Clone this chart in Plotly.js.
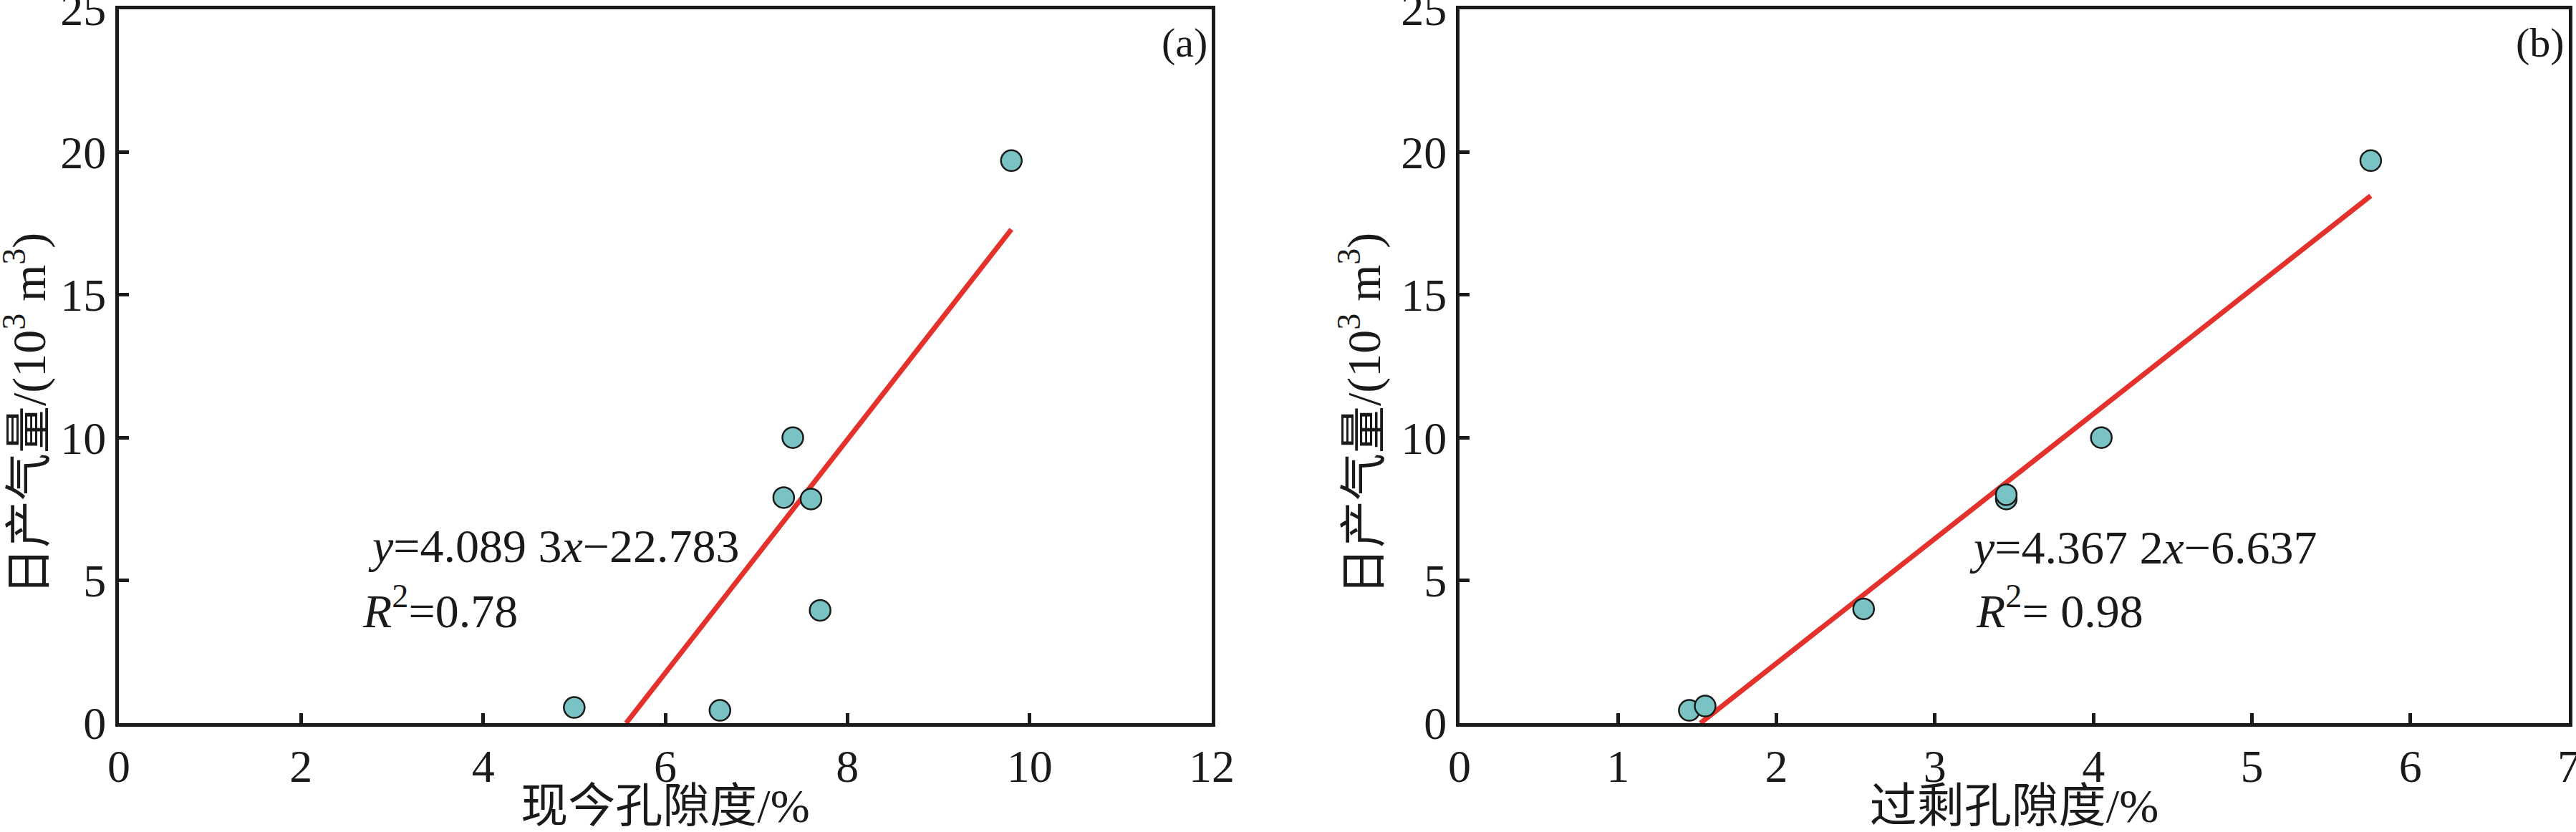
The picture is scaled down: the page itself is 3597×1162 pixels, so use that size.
<!DOCTYPE html>
<html>
<head>
<meta charset="utf-8">
<script src="https://cdn.plot.ly/plotly-3.0.1.min.js"></script>
<style>
  html, body { margin: 0; padding: 0; background: #fff; }
  #chart { width: 3597px; height: 1162px; }
</style>
</head>
<body>
<div id="chart"></div>
<script>
// Daily gas production vs present porosity (a) and excess porosity (b)
var gasA = [0.55, 0.45, 7.9, 10.0, 7.85, 3.95, 19.7];
var porosityNow = [5.0, 6.6, 7.3, 7.4, 7.6, 7.7, 9.8];

var gasB = [0.45, 0.6, 4.0, 7.85, 8.0, 10.0, 19.7];
var porosityExcess = [1.45, 1.55, 2.55, 3.45, 3.45, 4.05, 5.75];

// fitted lines, end points
var fitAX = [5.57, 9.8];
var fitAY = [0, 17.29];
var fitBX = [1.52, 5.75];
var fitBY = [0, 18.47];

var yTicks = [0, 5, 10, 15, 20, 25];
var xTicksA = [0, 2, 4, 6, 8, 10, 12];
var xTicksB = [0, 1, 2, 3, 4, 5, 6, 7];

var eqA = '<i>y</i>=4.089 3<i>x</i>\u221222.783';
var r2A = '<i>R</i><sup>2</sup>=0.78';
var eqB = '<i>y</i>=4.367 2<i>x</i>\u22126.637';
var r2B = '<i>R</i><sup>2</sup>= 0.98';

var xTitleA = '现今孔隙度/%';
var xTitleB = '过剩孔隙度/%';
var yTitle = '日产气量/(10<sup>3</sup> m<sup>3</sup>)';

var FONT = 'Times New Roman, Liberation Serif, DejaVu Serif, Noto Sans CJK SC, serif';
var INK = '#1a1a1a';
var DOT = '#79c3c5';
var RED = '#e4312b';

function pointsTrace(x, y, xa, ya) {
    return {
        x: x, y: y, xaxis: xa, yaxis: ya,
        type: 'scatter', mode: 'markers',
        marker: { size: 29, color: DOT, line: { color: INK, width: 2.5 } },
        cliponaxis: false,
        hoverinfo: 'skip'
    };
}

function fitTrace(x, y, xa, ya) {
    return {
        x: x, y: y, xaxis: xa, yaxis: ya,
        type: 'scatter', mode: 'lines',
        line: { color: RED, width: 7 },
        cliponaxis: false,
        hoverinfo: 'skip'
    };
}

function baseAxis(extra) {
    var ax = {
        showgrid: false,
        zeroline: false,
        showline: true,
        linecolor: INK,
        linewidth: 5,
        mirror: true,
        ticks: 'inside',
        ticklen: 14,
        tickwidth: 5,
        tickcolor: INK,
        ticklabeloverflow: 'allow',
        tickfont: { family: FONT, size: 64, color: INK },
        automargin: false,
        fixedrange: true
    };
    for (var k in extra) ax[k] = extra[k];
    return ax;
}

var data = [
    fitTrace(fitAX, fitAY, 'x', 'y'),
    pointsTrace(porosityNow, gasA, 'x', 'y'),
    fitTrace(fitBX, fitBY, 'x2', 'y2'),
    pointsTrace(porosityExcess, gasB, 'x2', 'y2')
];

var yDom = [(1162 - 1010) / 1162, (1162 - 13) / 1162];

function textNote(text, x, y, xref, yref, opts) {
    var a = {
        text: text, x: x, y: y, xref: xref, yref: yref,
        showarrow: false, xanchor: 'left', yanchor: 'middle',
        font: { family: FONT, size: 66, color: INK }
    };
    for (var k in opts) a[k] = opts[k];
    return a;
}

var titleFont = { family: FONT, size: 66, color: INK };

var layout = {
    width: 3597,
    height: 1162,
    margin: { l: 0, r: 0, t: 0, b: 0 },
    paper_bgcolor: '#ffffff',
    plot_bgcolor: '#ffffff',
    showlegend: false,
    xaxis: baseAxis({
        domain: [166 / 3597, 1692 / 3597], range: [0, 12],
        tickvals: xTicksA, anchor: 'y',
        title: { text: xTitleA, font: titleFont, standoff: 22 }
    }),
    yaxis: baseAxis({
        domain: yDom, range: [0, 25], tickvals: yTicks, anchor: 'x'
    }),
    xaxis2: baseAxis({
        domain: [2038 / 3597, 3587 / 3597], range: [0, 7],
        tickvals: xTicksB, anchor: 'y2',
        title: { text: xTitleB, font: titleFont, standoff: 22 }
    }),
    yaxis2: baseAxis({
        domain: yDom, range: [0, 25], tickvals: yTicks, anchor: 'x2'
    }),
    annotations: [
        textNote(eqA, 2.72, 6.2, 'x', 'y'),
        textNote(r2A, 2.66, 4.05, 'x', 'y'),
        textNote(eqB, 3.21, 6.15, 'x2', 'y2'),
        textNote(r2B, 3.25, 4.05, 'x2', 'y2'),
        textNote('(a)', 1688 / 3597, 1 - 60 / 1162, 'paper', 'paper', { xanchor: 'right', font: { family: FONT, size: 58, color: INK } }),
        textNote('(b)', 3583 / 3597, 1 - 60 / 1162, 'paper', 'paper', { xanchor: 'right', font: { family: FONT, size: 58, color: INK } }),
        textNote(yTitle, 36 / 3597, 1 - 578 / 1162, 'paper', 'paper', { xanchor: 'center', textangle: -90, font: titleFont }),
        textNote(yTitle, 1900 / 3597, 1 - 578 / 1162, 'paper', 'paper', { xanchor: 'center', textangle: -90, font: titleFont })
    ]
};

Plotly.newPlot('chart', data, layout, { displayModeBar: false, staticPlot: true });
</script>
</body>
</html>
